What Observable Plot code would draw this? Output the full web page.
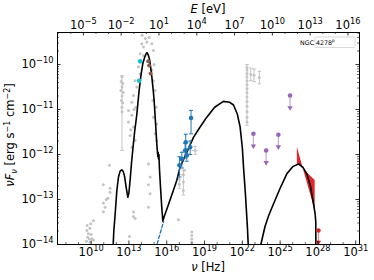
<!DOCTYPE html>
<html><head><meta charset="utf-8">
<script src="https://cdn.jsdelivr.net/npm/d3@7"></script>
<script src="https://cdn.jsdelivr.net/npm/@observablehq/plot@0.6"></script>
<style>
html,body{margin:0;padding:0;background:#fff;}
#chart{width:374px;height:280px;}
svg{font-family:"DejaVu Sans",sans-serif;}
</style></head><body><div id="chart"></div>
<script>
// ---------- data (log10 values) ----------
const xTickExps = [10, 13, 16, 19, 22, 25, 28, 31];
const eTickExps = [-5, -2, 1, 4, 7, 10, 13, 16];
const yTickExps = [-14, -13, -12, -11, -10];
const H_EV_S = 4.135667696e-15;
const sourceName = "NGC 4278";

// model: synchrotron + thermal + SSC part  [log nu, log nuFnu]
const modelLow = [
  [11.70,-14.3],[11.80,-13.7],[11.90,-13.35],[12.04,-12.8],[12.17,-12.5],[12.30,-12.37],
  [12.43,-12.34],[12.55,-12.38],[12.65,-12.48],[12.78,-12.73],[12.91,-12.95],[13.00,-12.85],
  [13.10,-12.55],[13.20,-12.2],[13.30,-11.91],[13.45,-11.5],[13.63,-11.1],[13.80,-10.6],
  [13.95,-10.25],[14.10,-9.98],[14.25,-9.84],[14.38,-9.75],[14.45,-9.74],[14.52,-9.78],
  [14.63,-9.88],[14.72,-10.05],[14.82,-10.28],[14.92,-10.55],[15.00,-10.8],[15.10,-11.25],
  [15.16,-11.53],[15.22,-11.8],[15.26,-11.95],[15.30,-12.05],[15.32,-11.95],[15.35,-12.1],
  [15.38,-12.0],[15.42,-12.3],[15.50,-12.7],[15.60,-13.15],[15.69,-13.48],[15.80,-13.38],
  [16.00,-13.22],[16.40,-12.9],[16.80,-12.57],[17.06,-12.28],[17.60,-11.95],[18.12,-11.62],
  [18.65,-11.39],[19.18,-11.17],[19.80,-10.95],[20.50,-10.82],[21.00,-10.84],[21.30,-10.9],
  [21.60,-11.1],[21.82,-11.38],[22.00,-11.85],[22.10,-12.3],[22.25,-12.9],[22.40,-13.6],[22.50,-14.2]
];
// model: high-energy component
const modelHigh = [
  [23.40,-14.2],[23.47,-14.0],[23.80,-13.6],[24.10,-13.35],[24.47,-13.1],[25.00,-12.75],
  [25.53,-12.43],[26.00,-12.27],[26.45,-12.21],[26.80,-12.28],[27.12,-12.43],[27.40,-12.7],
  [27.65,-13.1],[27.78,-13.32],[27.83,-13.5],[27.84,-14.3]
];
// absorbed X-ray power law (dashed)
const xrayPowerLaw = [[15.12,-14.1],[15.76,-13.48]];

// archival data (grey)
const archival = [
  [9.62,-13.93],[9.66,-13.69],[9.78,-13.76],[9.72,-13.84],[9.85,-13.88],[9.92,-13.95],[9.97,-13.54],
  [10.05,-13.87],[10.18,-13.9],[10.18,-13.47],[9.9,-13.64],[10.0,-13.78],[9.68,-13.58],
  [10.97,-12.67],[11.5,-12.75],[11.5,-12.84],[11.32,-12.97],[10.97,-13.08],[11.11,-13.17],
  [10.97,-13.27],[11.45,-12.24],[11.2,-13.0],
  [12.45,-10.28],[12.38,-10.38],[12.52,-10.42],[12.45,-10.5],[12.36,-10.58],[12.54,-10.62],
  [12.45,-10.7],[12.4,-10.8],[12.5,-10.85],[12.45,-10.95],[12.45,-11.05],
  [14.02,-9.54],[14.15,-9.61],[14.42,-9.5],[14.82,-9.54],[14.94,-9.69],[13.89,-9.76],[14.15,-9.8],
  [14.3,-9.42],[14.6,-9.4],[14.05,-9.35],
  [13.89,-10.21],[13.49,-10.36],[13.63,-10.5],[13.36,-10.69],[13.23,-10.84],[12.96,-11.02],
  [13.23,-11.13],[12.96,-11.28],[13.36,-11.39],[13.09,-11.58],[13.49,-11.69],[13.23,-11.84],
  [13.75,-10.05],[13.55,-10.95],[13.4,-11.0],[13.15,-11.45],
  [14.82,-10.13],[14.94,-10.36],[15.08,-10.58],[14.89,-10.8],[15.16,-10.95],[14.94,-11.17],
  [15.21,-11.32],[15.08,-11.54],[15.21,-11.69],[15.0,-10.0],
  [13.36,-13.28],[13.49,-13.42],[13.36,-13.38],[13.04,-13.82],
  [14.55,-12.21],[14.68,-12.5],[14.68,-12.87],[14.55,-13.17],[14.55,-12.67],
  [16.93,-13.45],[17.32,-12.45],[17.32,-12.61],[17.32,-12.8],[17.0,-12.55],[17.0,-12.66],[17.4,-12.35],
  [17.99,-13.72],[17.99,-13.8],[17.99,-13.88],[17.99,-13.95],[18.25,-11.91],
  [22.37,-10.06],[22.37,-10.12],[22.37,-10.2],[22.37,-10.28],[22.37,-10.36],[22.37,-10.45],
  [22.37,-10.54],[22.37,-10.63],[22.37,-10.72],[22.37,-10.82],[22.37,-10.93],[22.37,-11.05],
  [22.37,-11.17],[22.37,-11.28],
  [22.67,-10.22],[22.93,-10.24],[23.35,-10.29]
];
// archival vertical error bars [log nu, low, high]
const archivalErr = [
  [12.45,-11.91,-10.25],[22.37,-11.35,-10.0],[22.67,-10.36,-10.08],[22.93,-10.38,-10.1],
  [23.35,-10.43,-10.15],[17.32,-12.9,-12.35],[17.0,-12.75,-12.45],[18.25,-12.0,-11.82]
];
const archivalXErr = [[-11.91,18.0,18.5],[-12.45,17.15,17.5]];

// IR / optical (cyan, brown)
const cyanPts = [[13.89,-9.93],[13.81,-10.36]];
const brownPts = [[14.53,-9.93],[14.6,-10.02],[14.72,-10.2]];

// X-ray [log nu, log F, low, high]
const xrayPts = [
  [17.93,-11.19,-11.54,-11.02],[17.51,-11.73,-11.9,-11.55],[17.86,-11.84,-12.0,-11.7],
  [17.46,-11.91,-12.08,-11.75],[17.59,-12.02,-12.15,-11.88],[17.2,-12.1,-12.3,-11.95],
  [17.01,-12.24,-12.5,-12.05]
];
const xrayXErr = [[-11.84,17.75,17.98],[-12.1,17.1,17.3],[-12.24,16.9,17.1]];

// gamma-ray upper limits (purple) [log nu, log F, arrow end]
const gammaUL = [[25.79,-10.69,-10.96],[22.88,-11.54,-11.81],[23.89,-11.91,-12.18],[24.86,-11.56,-11.83]];
// VHE upper limit (red)
const vheUL = [[28.04,-13.69,-13.95]];
// VHE butterfly [log nu, lower, upper]
const butterfly = [[26.37,-12.2,-11.84],[26.85,-12.33,-12.33],[27.78,-13.24,-12.58]];

// ---------- drawing ----------
const P = v => Math.pow(10, v);
const W = 374, HT = 280, ML = 57, MR = 15, MT = 32, MB = 36;
const PW = W - ML - MR, PH = HT - MT - MB;
const FS = 11.5;

const gray = "#c4c4c4", blue = "#1f77b4", purple = "#9467bd", cyan = "#17becf",
      brown = "#8c564b", red = "#d62728", purpleLight = "#c3a9dc";

const capH = {draw(ctx, size){const w = Math.sqrt(size/Math.PI); ctx.moveTo(-w,0); ctx.lineTo(w,0);}};

const xDomainLog = [7.33, 31.3], yDomainLog = [-14, -9.289];
const xMinor = d3.range(8, 32).filter(d => !xTickExps.includes(d) && d > xDomainLog[0] && d < xDomainLog[1]);
const eMinor = d3.range(-6, 18).filter(d => !eTickExps.includes(d));
const eNu = e => P(e) / H_EV_S;
const yMinor = [];
for (let d = -14; d < -9; d++) for (let k = 2; k <= 9; k++) { const v = d + Math.log10(k); if (v < yDomainLog[1]) yMinor.push(v); }

const sup = v => "10^" + String(Math.round(v)).replace("-", "\u2212");

const plot = Plot.plot({
  width: W, height: HT, marginTop: MT, marginRight: MR, marginBottom: MB, marginLeft: ML,
  style: {fontFamily: "DejaVu Sans", fontSize: "11px", background: "white", color: "black"},
  x: {type: "log", domain: xDomainLog.map(P)},
  y: {type: "log", domain: yDomainLog.map(P)},
  marks: [
    Plot.ruleX(archivalErr, {x: d => P(d[0]), y1: d => P(d[1]), y2: d => P(d[2]), stroke: gray, strokeWidth: 1, clip: true}),
    Plot.dot(archivalErr, {x: d => P(d[0]), y: d => P(d[1]), symbol: capH, r: 1.8, stroke: gray, strokeWidth: 1}),
    Plot.dot(archivalErr, {x: d => P(d[0]), y: d => P(d[2]), symbol: capH, r: 1.8, stroke: gray, strokeWidth: 1}),
    Plot.ruleY(archivalXErr, {y: d => P(d[0]), x1: d => P(d[1]), x2: d => P(d[2]), stroke: gray, strokeWidth: 1}),
    Plot.dot(archival, {x: d => P(d[0]), y: d => P(d[1]), r: 1.5, fill: gray, stroke: "none", clip: true}),
    Plot.areaY(butterfly, {x: d => P(d[0]), y1: d => P(d[1]), y2: d => P(d[2]), fill: "#e0191f", fillOpacity: 0.95, clip: true}),
    Plot.line(modelLow, {x: d => P(d[0]), y: d => P(d[1]), stroke: "black", strokeWidth: 1.6, clip: true}),
    Plot.line(modelHigh, {x: d => P(d[0]), y: d => P(d[1]), stroke: "black", strokeWidth: 1.6, clip: true}),
    Plot.line(xrayPowerLaw, {x: d => P(d[0]), y: d => P(d[1]), stroke: blue, strokeWidth: 1.3, strokeDasharray: "3.5,2", clip: true}),
    Plot.dot(cyanPts, {x: d => P(d[0]), y: d => P(d[1]), r: 2.3, fill: cyan, stroke: "none"}),
    Plot.dot(brownPts, {x: d => P(d[0]), y: d => P(d[1]), r: 2, fill: brown, stroke: "none"}),
    Plot.ruleX(xrayPts, {x: d => P(d[0]), y1: d => P(d[2]), y2: d => P(d[3]), stroke: blue, strokeWidth: 1}),
    Plot.dot(xrayPts, {x: d => P(d[0]), y: d => P(d[2]), symbol: capH, r: 2, stroke: blue, strokeWidth: 1}),
    Plot.dot(xrayPts, {x: d => P(d[0]), y: d => P(d[3]), symbol: capH, r: 2, stroke: blue, strokeWidth: 1}),
    Plot.ruleY(xrayXErr, {y: d => P(d[0]), x1: d => P(d[1]), x2: d => P(d[2]), stroke: blue, strokeWidth: 1}),
    Plot.dot(xrayPts, {x: d => P(d[0]), y: d => P(d[1]), r: 2.3, fill: blue, stroke: "none"}),
    Plot.ruleX(gammaUL, {x: d => P(d[0]), y1: d => P(d[1]), y2: d => P(d[2]), stroke: purpleLight, strokeWidth: 1.2}),
    Plot.dot(gammaUL, {x: d => P(d[0]), y: d => P(d[2]), symbol: "triangle", rotate: 180, r: 2, fill: purple, stroke: "none"}),
    Plot.dot(gammaUL, {x: d => P(d[0]), y: d => P(d[1]), r: 2.3, fill: purple, stroke: "none"}),
    Plot.ruleX(vheUL, {x: d => P(d[0]), y1: d => P(d[1]), y2: d => P(d[2]), stroke: "#ee8a8a", strokeWidth: 1.2}),
    Plot.dot(vheUL, {x: d => P(d[0]), y: d => P(d[2]), symbol: "triangle", rotate: 180, r: 2, fill: red, stroke: "none"}),
    Plot.dot(vheUL, {x: d => P(d[0]), y: d => P(d[1]), r: 2.3, fill: red, stroke: "none"}),
    Plot.tickX(xTickExps, {x: P, insetTop: PH - 3.5, stroke: "black", strokeWidth: 0.8}),
    Plot.tickX(xMinor, {x: P, insetTop: PH - 2, stroke: "black", strokeWidth: 0.6}),
    Plot.tickX(eTickExps, {x: eNu, insetBottom: PH - 3.5, stroke: "black", strokeWidth: 0.8}),
    Plot.tickX(eMinor.filter(e => eNu(e) > P(xDomainLog[0]) && eNu(e) < P(xDomainLog[1])), {x: eNu, insetBottom: PH - 2, stroke: "black", strokeWidth: 0.6}),
    Plot.tickY(yTickExps, {y: P, insetRight: PW - 3.5, stroke: "black", strokeWidth: 0.8}),
    Plot.tickY(yTickExps, {y: P, insetLeft: PW - 3.5, stroke: "black", strokeWidth: 0.8}),
    Plot.tickY(yMinor, {y: P, insetRight: PW - 2, stroke: "black", strokeWidth: 0.6}),
    Plot.tickY(yMinor, {y: P, insetLeft: PW - 2, stroke: "black", strokeWidth: 0.6}),
    Plot.axisX({ticks: xTickExps.map(P), tickSize: 0, tickPadding: 3, label: null,
      tickFormat: v => sup(Math.log10(v))}),
    Plot.axisX({anchor: "top", ticks: eTickExps.map(eNu), tickSize: 0, tickPadding: 4, label: null,
      tickFormat: v => sup(Math.log10(v * H_EV_S))}),
    Plot.axisY({ticks: yTickExps.map(P), tickSize: 0, tickPadding: 4, label: null,
      tickFormat: v => sup(Math.log10(v))}),
    Plot.frame({stroke: "black", strokeWidth: 1})
  ]
});

const svg = d3.select(plot);
svg.selectAll("text").each(function() {
  const t = this.textContent;
  const m = /^10\^(.+)$/.exec(t);
  if (!m) return;
  const sel = d3.select(this);
  sel.attr("font-size", FS + "px").text("10");
  sel.append("tspan").attr("font-size", (FS * 0.72) + "px").attr("dy", -FS * 0.42).text(m[1]);
});

const cx = ML + PW / 2;
const topLabel = svg.append("text").attr("x", cx).attr("y", 13).attr("text-anchor", "middle").attr("font-size", "11.5px");
topLabel.append("tspan").attr("font-style", "italic").text("E");
topLabel.append("tspan").text(" [eV]");

const botLabel = svg.append("text").attr("x", cx).attr("y", 271).attr("text-anchor", "middle").attr("font-size", "11.5px");
botLabel.append("tspan").attr("font-style", "italic").text("\u03bd");
botLabel.append("tspan").text(" [Hz]");

const yLabel = svg.append("text").attr("transform", `translate(14,${MT + PH / 2 - 3}) rotate(-90)`).attr("text-anchor", "middle").attr("font-size", "11.5px");
yLabel.append("tspan").attr("font-style", "italic").text("\u03bdF");
yLabel.append("tspan").attr("font-style", "italic").attr("font-size", "8px").attr("dy", 2.5).text("\u03bd");
yLabel.append("tspan").attr("dy", -2.5).text(" [erg s");
yLabel.append("tspan").attr("font-size", "8px").attr("dy", -4.5).text("\u22121");
yLabel.append("tspan").attr("dy", 4.5).text(" cm");
yLabel.append("tspan").attr("font-size", "8px").attr("dy", -4.5).text("\u22122");
yLabel.append("tspan").attr("dy", 4.5).text("]");

const lg = svg.append("g");
lg.append("rect").attr("x", 315).attr("y", 37).attr("width", 40).attr("height", 10.5).attr("rx", 1.5)
  .attr("fill", "white").attr("stroke", "#d0d0d0").attr("stroke-width", 0.8);
const lt = lg.append("text").attr("x", 317.5).attr("y", 44.6).attr("font-size", "6.3px").attr("fill", "black");
lt.append("tspan").text(sourceName);
lt.append("tspan").attr("font-size", "4.4px").attr("dy", -2.3).text("p");

document.getElementById("chart").appendChild(plot);
</script>
</body></html>
